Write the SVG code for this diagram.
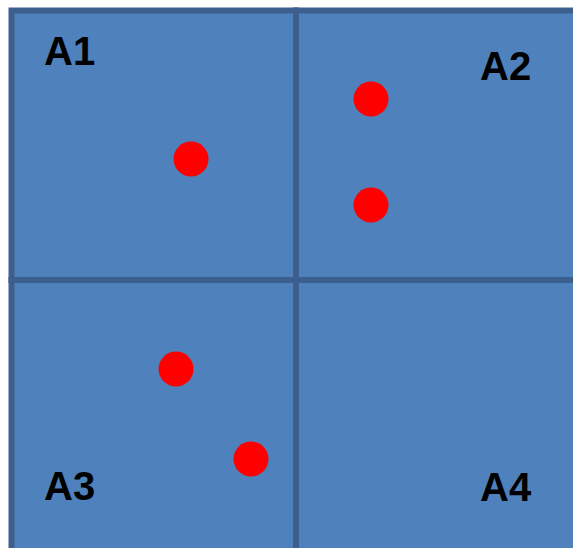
<svg xmlns="http://www.w3.org/2000/svg" width="573" height="548" viewBox="0 0 573 548">
<style>
.q{fill:#4F81BD;stroke:#3C5F8E;stroke-width:6}
.lbl{font-family:"Liberation Sans",Arial,sans-serif;font-weight:bold;font-size:40px;fill:#000}
.dot{fill:#FF0000}
</style>
<rect x="0" y="0" width="573" height="548" fill="#FFFFFF"/>
<g id="A1"><rect class="q" x="11.5" y="10.5" width="284.5" height="269.5"/><text class="lbl" x="44" y="65">A1</text></g>
<g id="A2"><rect class="q" x="296" y="10.5" width="290" height="269.5"/><text class="lbl" x="480" y="80">A2</text></g>
<g id="A3"><rect class="q" x="11.5" y="280" width="284.5" height="290"/><text class="lbl" x="44" y="500">A3</text></g>
<g id="A4"><rect class="q" x="296" y="280" width="290" height="290"/><text class="lbl" x="480" y="501">A4</text></g>
<g id="points">
<circle class="dot" cx="191" cy="159" r="17.5"/>
<circle class="dot" cx="371" cy="99" r="17.5"/>
<circle class="dot" cx="371" cy="205" r="17.5"/>
<circle class="dot" cx="176" cy="369" r="17.5"/>
<circle class="dot" cx="251" cy="459" r="17.5"/>
</g>
</svg>
